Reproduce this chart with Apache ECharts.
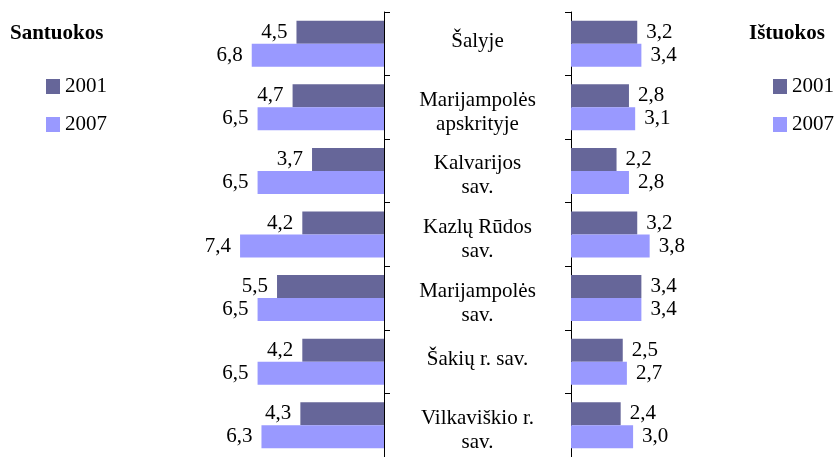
<!DOCTYPE html>
<html>
<head>
<meta charset="utf-8">
<script src="https://cdn.jsdelivr.net/npm/echarts@6/dist/echarts.min.js"></script>
<style>html,body{margin:0;padding:0;background:#fff;}#c{width:834px;height:457px;}</style>
</head>
<body>
<div id="c"></div>
<script>
const categories = ['Šalyje', 'Marijampolės\napskrityje', 'Kalvarijos\nsav.', 'Kazlų Rūdos\nsav.', 'Marijampolės\nsav.', 'Šakių r. sav.', 'Vilkaviškio r.\nsav.'];
const years = ['2001', '2007'];
const santuokos2001 = [4.5, 4.7, 3.7, 4.2, 5.5, 4.2, 4.3];
const santuokos2007 = [6.8, 6.5, 6.5, 7.4, 6.5, 6.5, 6.3];
const istuokos2001 = [3.2, 2.8, 2.2, 3.2, 3.4, 2.5, 2.4];
const istuokos2007 = [3.4, 3.1, 2.8, 3.8, 3.4, 2.7, 3.0];

const FONT = '"Liberation Serif", "Times New Roman", serif';
const C1 = '#666699', C2 = '#9999FF';
const fmt = p => p.value.toFixed(1).replace('.', ',');
const lbl = pos => ({show: true, position: pos, distance: 9, formatter: fmt, color: '#000', fontFamily: FONT, fontSize: 21});

function bar(name, data, idx, color, pos) {
  return {name, type: 'bar', data, xAxisIndex: idx, yAxisIndex: idx, barWidth: 23, barGap: '0%',
    itemStyle: {color}, label: lbl(pos), silent: true, animation: false};
}

function catFmt(v) {
  const lines = v.split('\n');
  if (lines.length > 1) return '{t| }\n' + lines.map(s => '{m|' + s + '}').join('\n');
  return '{m|' + v + '}\n{b| }';
}

const chart = echarts.init(document.getElementById('c'));
chart.setOption({
  animation: false,
  textStyle: {fontFamily: FONT},
  title: [
    {text: 'Santuokos', left: 5, top: 18, textStyle: {fontFamily: FONT, fontSize: 21, fontWeight: 'bold', color: '#000'}},
    {text: 'Ištuokos', left: 744, top: 18, textStyle: {fontFamily: FONT, fontSize: 21, fontWeight: 'bold', color: '#000'}}
  ],
  legend: [
    {data: years, orient: 'vertical', left: 41, top: 71, icon: 'rect', itemWidth: 14, itemHeight: 15, itemGap: 17,
      textStyle: {fontFamily: FONT, fontSize: 21, color: '#000', lineHeight: 21}, selectedMode: false},
    {data: years, orient: 'vertical', left: 768, top: 71, icon: 'rect', itemWidth: 14, itemHeight: 15, itemGap: 17,
      textStyle: {fontFamily: FONT, fontSize: 21, color: '#000', lineHeight: 21}, selectedMode: false}
  ],
  grid: [
    {left: 228.4, top: 12, width: 155.6, height: 447},
    {left: 571, top: 12, width: 103.5, height: 447}
  ],
  xAxis: [
    {gridIndex: 0, type: 'value', min: 0, max: 8, inverse: true, show: false},
    {gridIndex: 1, type: 'value', min: 0, max: 5, show: false}
  ],
  yAxis: [
    {gridIndex: 0, type: 'category', data: categories, inverse: true, position: 'right',
      axisLine: {show: true, lineStyle: {color: '#000', width: 1}},
      axisTick: {show: true, length: 6, lineStyle: {color: '#000', width: 1}},
      axisLabel: {show: true, align: 'center', margin: 93.5, color: '#000', formatter: catFmt,
        rich: {
          m: {fontFamily: FONT, fontSize: 21, lineHeight: 24, color: '#000', align: 'center'},
          t: {fontSize: 4, lineHeight: 10},
          b: {fontSize: 4, lineHeight: 4}
        }}},
    {gridIndex: 1, type: 'category', data: categories, inverse: true, position: 'left',
      axisLine: {show: true, lineStyle: {color: '#000', width: 1}},
      axisTick: {show: true, length: 6, lineStyle: {color: '#000', width: 1}},
      axisLabel: {show: false}}
  ],
  series: [
    bar('2001', santuokos2001, 0, C1, 'left'),
    bar('2007', santuokos2007, 0, C2, 'left'),
    bar('2001', istuokos2001, 1, C1, 'right'),
    bar('2007', istuokos2007, 1, C2, 'right')
  ]
});
</script>
</body>
</html>
